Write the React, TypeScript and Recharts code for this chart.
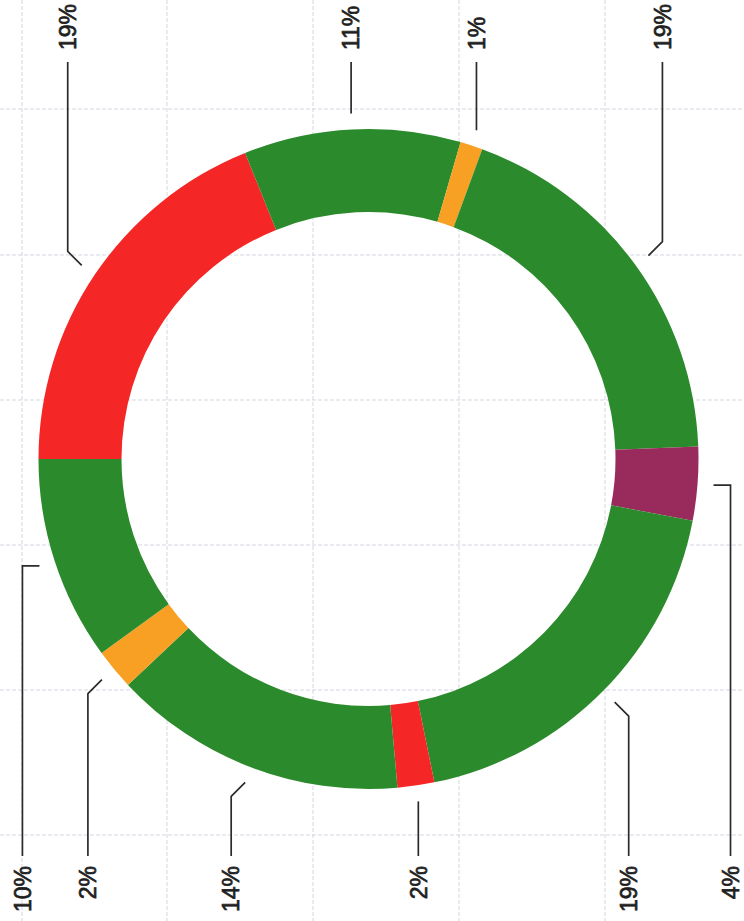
import React from 'react';
import { PieChart, Pie, Cell } from 'recharts';

// ring segments, clockwise from 9 o'clock
const SEGMENT_NAMES = ['S1', 'S2', 'S3', 'S4', 'S5', 'S6', 'S7', 'S8', 'S9', 'S10'];
const SEGMENT_VALUES = [18.9, 10.6, 1.1, 18.8, 3.6, 18.8, 1.8, 14.4, 2.0, 10.0];
const SEGMENT_COLORS = [
  '#f42626', '#2b8a2c', '#f7a024', '#2b8a2c', '#982a5c',
  '#2b8a2c', '#f42626', '#2b8a2c', '#f7a024', '#2b8a2c',
];

const GRID_X = [22, 167, 313, 459, 605];
const GRID_Y = [109, 255, 400, 545, 690, 835];

const data = SEGMENT_NAMES.map((name, i) => ({ name, value: SEGMENT_VALUES[i] }));

const RADIAN = Math.PI / 180;
const TOP_LINE_END = 62;
const BOTTOM_LINE_END = 856;

const renderLabel = (props: any) => {
  const { cx, cy, midAngle, outerRadius, percent, index } = props;
  const cos = Math.cos(-midAngle * RADIAN);
  const sin = Math.sin(-midAngle * RADIAN);
  const sx = cx + (outerRadius + 16) * cos;
  const sy = cy + (outerRadius + 16) * sin;
  const up = sin < 0;
  let ex = sx;
  let ey = sy;
  if (Math.abs(sin) > 0.5) {
    ex = sx + (Math.abs(cos) > 0.33 ? Math.sign(cos) * 14 : 0);
    ey = sy + Math.sign(sin) * 14;
  } else {
    ex = sx + Math.sign(cos) * 17;
  }
  const endY = up ? TOP_LINE_END : BOTTOM_LINE_END;
  const textY = up ? 50 : 866;
  return (
    <g key={`label-${index}`}>
      <polyline
        points={`${sx},${sy} ${ex},${ey} ${ex},${endY}`}
        fill="none"
        stroke="#2b2b2b"
        strokeWidth={1.7}
      />
      <text
        x={ex}
        y={textY}
        dy="0.36em"
        transform={`rotate(-90 ${ex} ${textY})`}
        textAnchor={up ? 'start' : 'end'}
        fill="#1f1f1f"
        stroke="#1f1f1f"
        strokeWidth={0.7}
        fontSize={23}
        fontFamily="'Liberation Sans', Arial, sans-serif"
      >
        {`${Math.round(percent * 100)}%`}
      </text>
    </g>
  );
};

const App: React.FC = () => {
  return (
    <div style={{ position: 'absolute', left: 0, top: 0, width: 744, height: 921, background: '#fff', overflow: 'hidden' }}>
      <svg width={744} height={921} style={{ position: 'absolute', left: 0, top: 0 }}>
        {GRID_X.map((x) => (
          <line key={`gx-${x}`} x1={x} x2={x} y1={0} y2={921} stroke="#d3d7e3" strokeWidth={1} strokeDasharray="4 2" />
        ))}
        {GRID_Y.map((y) => (
          <line key={`gy-${y}`} x1={0} x2={744} y1={y} y2={y} stroke="#d3d7e3" strokeWidth={1} strokeDasharray="4 2" />
        ))}
      </svg>
      <div style={{ position: 'absolute', left: 0, top: 0 }}>
        <PieChart width={744} height={921} margin={{ top: 0, right: 0, bottom: 0, left: 0 }}>
          <Pie
            data={data}
            dataKey="value"
            cx={368.5}
            cy={459}
            innerRadius={247}
            outerRadius={330}
            startAngle={180}
            endAngle={-180}
            stroke="none"
            label={renderLabel}
            labelLine={false}
            isAnimationActive={false}
          >
            {data.map((entry, index) => (
              <Cell key={`cell-${index}`} fill={SEGMENT_COLORS[index]} />
            ))}
          </Pie>
        </PieChart>
      </div>
    </div>
  );
};

export default App;
